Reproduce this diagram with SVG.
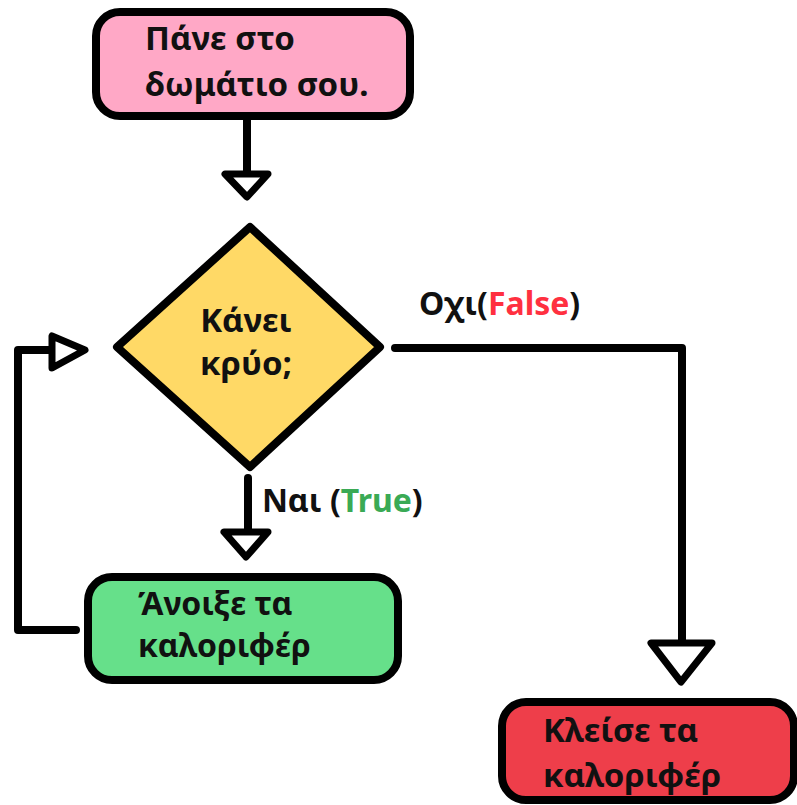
<svg xmlns="http://www.w3.org/2000/svg" width="797" height="805" viewBox="0 0 797 805">
<style>
.box{stroke:#000;stroke-width:8;stroke-linejoin:round}
.ln{fill:none;stroke:#000;stroke-width:8;stroke-linecap:round;stroke-linejoin:round}
.ah{fill:#fff;stroke:#000;stroke-width:7;stroke-linejoin:round}
text{font-family:"Noto Sans","Open Sans","DejaVu Sans",sans-serif;font-weight:bold;font-size:33px;fill:#111}
.lbl{font-size:32px}
.sm{font-size:32px}
</style>
<rect width="797" height="805" fill="#fff"/>
<g id="connectors">
<path class="ln" d="M247 117 V174"/>
<polygon class="ah" points="225,174 268,174 247,197"/>
<path class="ln" d="M248 478 V532"/>
<polygon class="ah" points="224,532 268,532 246,557"/>
<path class="ln" d="M395 348 H682 V643"/>
<polygon class="ah" points="651,643 712,643 681,682"/>
<path class="ln" d="M76 630 H18 V350 H52"/>
<polygon class="ah" points="52,336 52,368 85,350"/>
<text class="lbl" x="419" y="315">Οχι(<tspan fill="#ff3040">False</tspan>)</text>
<text class="lbl" x="262" y="512">Ναι (<tspan fill="#3aaa55">True</tspan>)</text>
</g>
<g id="start">
<rect class="box" x="96" y="12" width="314" height="104" rx="24" fill="#ffa8c6"/>
<text x="145" y="50">Πάνε στο</text>
<text x="145" y="96">δωμάτιο σου.</text>
</g>
<g id="decision">
<polygon class="box" points="250,227 380,347 250,467 117,347" fill="#ffd966"/>
<text x="246" y="332" text-anchor="middle">Κάνει</text>
<text x="246" y="375" text-anchor="middle">κρύο;</text>
</g>
<g id="open-heating">
<rect class="box" x="88" y="577" width="310" height="103" rx="24" fill="#66e08a"/>
<text class="sm" x="138" y="615">Άνοιξε τα</text>
<text class="sm" x="138" y="657">καλοριφέρ</text>
</g>
<g id="close-heating">
<rect class="box" x="502" y="702" width="292" height="98" rx="24" fill="#ee3e4a"/>
<text x="543" y="742">Κλείσε τα</text>
<text x="543" y="787">καλοριφέρ</text>
</g>
</svg>
